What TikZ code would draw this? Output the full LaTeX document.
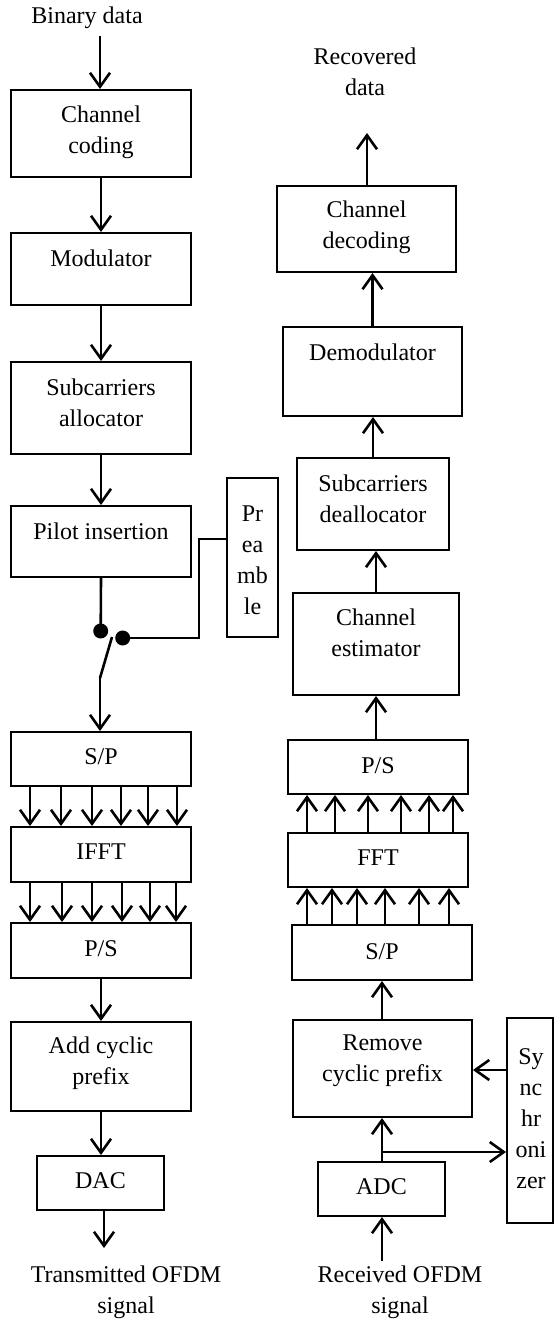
\documentclass[tikz,border=0pt]{standalone}
\usepackage{fontspec}
\setmainfont{Liberation Serif}
\usetikzlibrary{arrows.meta}
\begin{document}
\begin{tikzpicture}[x=0.5pt,y=-0.5pt,
  every node/.style={font=\fontsize{12}{15.5}\selectfont, inner sep=0pt},
  box/.style={draw, line width=1pt},
  lbl/.style={align=center},
  arr/.style={line width=1.3pt, -{Straight Barb[length=7pt,width=10pt,line width=1.3pt]}},
  wire/.style={line width=1.3pt},
  dot/.style={circle, fill, minimum size=7.5pt, inner sep=0pt}
]
\useasboundingbox (0,0) rectangle (555,1320);

% ---------- left column (transmitter) ----------
\node[lbl] (bd) at (87,18) {Binary data};
\coordinate (bx) at (100,36);

\node[box, minimum width=90pt, minimum height=43.5pt] (cc) at (101,133.5) {};
\node[lbl] (cct) at (101,132) {Channel\\coding};

\node[box, minimum width=90pt, minimum height=36pt] (mod) at (101,269) {};
\node[lbl] (modt) at (101,258) {Modulator};

\node[box, minimum width=90pt, minimum height=46pt] (sa) at (101,408) {};
\node[lbl] (sat) at (101,403) {Subcarriers\\allocator};

\node[box, minimum width=90pt, minimum height=35.5pt] (pi) at (101,541.5) {};
\node[lbl] (pit) at (101,531) {Pilot insertion};

\node[box, minimum width=25.5pt, minimum height=79.5pt] (pre) at (252.5,557.5) {};
\node[lbl] (pret) at (252.5,560) {Pr\\ea\\mb\\le};

\node[dot] (d1) at (100.7,631) {};
\node[dot] (d2) at (122.7,638) {};
\coordinate (swt) at (112,637);
\coordinate (sw) at (100,678);
\coordinate (k) at (199,539);

\node[box, minimum width=90pt, minimum height=27pt] (sp) at (101,759) {};
\node[lbl] (spt) at (101,757) {S/P};

\node[box, minimum width=90pt, minimum height=27.5pt] (ifft) at (101,854.5) {};
\node[lbl] (ifftt) at (101,852) {IFFT};

\node[box, minimum width=90pt, minimum height=27.5pt] (ps) at (101,950.5) {};
\node[lbl] (pst) at (101,949) {P/S};

\node[box, minimum width=90pt, minimum height=44.5pt] (acp) at (101,1066.5) {};
\node[lbl] (acpt) at (101,1063) {Add cyclic\\prefix};

\node[box, minimum width=63.5pt, minimum height=27pt] (dac) at (100.5,1183) {};
\node[lbl] (dact) at (100.5,1181) {DAC};

\coordinate (tx) at (104,1248);
\node[lbl] (txt) at (126,1292) {Transmitted OFDM\\signal};

% left connectors
\draw[arr] (bx) -- (bx |- cc.north);
\draw[arr] (cc.south) -- (mod.north);
\draw[arr] (mod.south) -- (sa.north);
\draw[arr] (sa.south) -- (pi.north);
\draw[wire] (pi.south) -- (d1.center);
\draw[wire] (d2.center) -| (k) -- (k -| pre.west);
\draw[wire] (swt) -- (sw);
\draw[arr] (sw) -- (sw |- sp.north);
\foreach \d in {-35.5,-20,-4.5,10,23.5,38}
  \draw[arr] ([xshift=\d pt]sp.south) -- ([xshift=\d pt]ifft.north);
\foreach \d in {-35.5,-19.5,-4.5,10.5,24.5,37.5}
  \draw[arr] ([xshift=\d pt]ifft.south) -- ([xshift=\d pt]ps.north);
\draw[arr] (ps.south) -- (ps.south |- acp.north);
\draw[arr] (acp.south) -- (acp.south |- dac.north);
\draw[arr] (dac.south -| tx) -- (tx);

% ---------- right column (receiver) ----------
\node[lbl] (rdt) at (365,72) {Recovered\\data};
\coordinate (rd) at (367,133);

\node[box, minimum width=89.5pt, minimum height=43pt] (cd) at (366.5,229) {};
\node[lbl] (cdt) at (366.5,227) {Channel\\decoding};

\node[box, minimum width=89.5pt, minimum height=44.5pt] (dem) at (372.5,371.5) {};
\node[lbl] (demt) at (372.5,352) {Demodulator};

\node[box, minimum width=76pt, minimum height=46pt] (sd) at (373,504) {};
\node[lbl] (sdt) at (373,499) {Subcarriers\\deallocator};

\node[box, minimum width=83pt, minimum height=51pt] (ce) at (376,644) {};
\node[lbl] (cet) at (376,633) {Channel\\estimator};

\node[box, minimum width=90pt, minimum height=27pt] (ps2) at (378,767) {};
\node[lbl] (ps2t) at (378,766) {P/S};

\node[box, minimum width=90pt, minimum height=27pt] (fft) at (378,860) {};
\node[lbl] (fftt) at (378,858) {FFT};

\node[box, minimum width=90pt, minimum height=27.5pt] (sp2) at (382,952.5) {};
\node[lbl] (sp2t) at (382,952) {S/P};

\node[box, minimum width=89.5pt, minimum height=48.5pt] (rcp) at (382.5,1068.5) {};
\node[lbl] (rcpt) at (382.5,1061) {Remove\\cyclic prefix};

\node[box, minimum width=23pt, minimum height=102.5pt] (sync) at (530,1120.5) {};
\node[lbl] (synct) at (531,1119) {Sy\\nc\\hr\\oni\\zer};

\node[box, minimum width=63.5pt, minimum height=27pt] (adc) at (381.5,1189) {};
\node[lbl] (adct) at (381.5,1187) {ADC};

\coordinate (rx) at (382,1261);
\node[lbl] (rxt) at (400,1292) {Received OFDM\\signal};
\coordinate (br) at (382,1152);
\coordinate (sy) at (490,1070);

% right connectors
\draw[arr] (cd.north -| rd) -- (rd);
\draw[arr] (dem.north) -- (dem.north |- cd.south);
\draw[arr] (sd.north) -- (sd.north |- dem.south);
\draw[arr] (ce.north) -- (ce.north |- sd.south);
\draw[arr] (ce.south |- ps2.north) -- (ce.south);
\foreach \d [count=\i] in {-35.5,-21.5,-5,11.5,25.5,37.5} {
  \coordinate (fa\i) at ([xshift=\d pt]fft.north);
  \draw[arr] (fa\i) -- (fa\i |- ps2.south);
}
\foreach \d [count=\i] in {-35.5,-23,-10.5,3.5,20.5,35.5} {
  \coordinate (fb\i) at ([xshift=\d pt]fft.south);
  \draw[arr] (fb\i |- sp2.north) -- (fb\i);
}
\draw[arr] (rcp.north -| br) -- (br |- sp2.south);
\draw[arr] (adc.north -| br) -- (br |- rcp.south);
\draw[arr] (br) -- (br -| sync.west);
\draw[arr] (sync.west |- sy) -- (rcp.east |- sy);
\draw[arr] (rx) -- (rx |- adc.south);

\end{tikzpicture}
\end{document}
